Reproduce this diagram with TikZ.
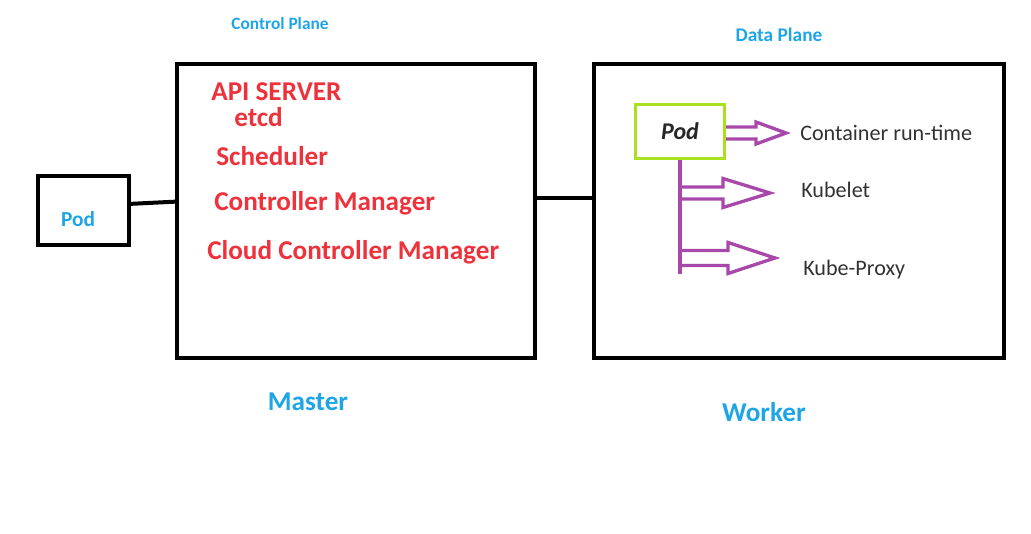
\documentclass[tikz,border=0pt]{standalone}
\usepackage{fontspec}
\setmainfont{Carlito}
\usetikzlibrary{calc}
\definecolor{skyblue}{RGB}{30,165,230}
\definecolor{alertred}{RGB}{238,50,60}
\definecolor{podgreen}{RGB}{170,225,30}
\definecolor{podpurple}{RGB}{168,72,170}
\definecolor{darktext}{RGB}{50,50,50}
\tikzset{
  frame/.style={draw, line width=3pt},
  redlabel/.style={text=alertred, inner sep=0pt, anchor=west,
    font=\bfseries\fontsize{20.4}{24}\selectfont},
  rolelabel/.style={text=skyblue, inner sep=0pt,
    font=\bfseries\fontsize{20.4}{24}\selectfont},
  planelabel/.style={text=skyblue, inner sep=0pt, font=\bfseries\fontsize{#1}{16}\selectfont},
  part/.style={text=darktext, inner sep=0pt, anchor=west,
    font=\fontsize{16.6}{20}\selectfont},
  fat/.style={draw=podpurple, line width=2.5pt, line join=miter},
  link/.style={line width=3pt}
}
% hollow arrow: from, to, head length, half head, half shaft (all in px)
\newcommand{\fatarrow}[5]{%
  \draw[fat] let \p1=(#1), \p2=(#2) in
    (\x1,\y2+#5*0.75pt) -- (\x2-#3*0.75pt,\y2+#5*0.75pt)
    -- (\x2-#3*0.75pt,\y2+#4*0.75pt) -- (\x2,\y2)
    -- (\x2-#3*0.75pt,\y2-#4*0.75pt) -- (\x2-#3*0.75pt,\y2-#5*0.75pt)
    -- (\x1,\y2-#5*0.75pt);}

\begin{document}
\begin{tikzpicture}[x=0.75pt,y=-0.75pt]
    \useasboundingbox (0,0) rectangle (1031,533);
    % boxes
    \node[frame, minimum width=358*0.75pt, minimum height=294*0.75pt] (master) at (356,211) {};
    \node[frame, minimum width=410*0.75pt, minimum height=294*0.75pt] (worker) at (799,211) {};
    \node[frame, minimum width=91*0.75pt, minimum height=69*0.75pt] (lpod) at (83.5,210.5) {};
    \node[text=skyblue, inner sep=0pt, font=\bfseries\fontsize{16}{18}\selectfont] (lpodname) at (78,219) {Pod};
    \node[draw=podgreen, line width=2.5pt, minimum width=89*0.75pt, minimum height=54*0.75pt,
      font=\bfseries\itshape\fontsize{18}{20}\selectfont, text=black!85] (gpod) at (680,131.5) {Pod};
    \draw[link] ([yshift=5pt]lpod.east) -- ([yshift=7pt]master.west);
    \draw[link] ([yshift=10pt]master.east) -- ([yshift=10pt]worker.west);
    % titles
    \node[planelabel=13] (ctrlname) at (280,23) {Control Plane};
    \node[planelabel=14.5] (dataname) at (779,35) {Data Plane};
    \node[rolelabel] (mastername) at (308,402) {Master};
    \node[rolelabel] (workername) at (764,412) {Worker};
    % control plane parts
    \node[redlabel] (api) at (211,92) {API SERVER};
    \node[redlabel] (etcd) at (234,117) {etcd};
    \node[redlabel] (sched) at (216,156) {Scheduler};
    \node[redlabel] (cm) at (214,203) {Controller Manager};
    \node[redlabel] (ccm) at (207,252) {Cloud Controller Manager};
    % worker parts
    \node[part] (crtname) at (800,133) {Container run-time};
    \node[part] (kubname) at (801,190) {Kubelet};
    \node[part] (prxname) at (803,270) {Kube-Proxy};
    \coordinate (crt) at (786,133);
    \coordinate (kub) at (770,193);
    \coordinate (prx) at (775,258);
    \coordinate (trunk) at (680,274);
    \draw[fat, line width=3pt] (gpod.south) -- (trunk);
    \fatarrow{gpod.east}{crt}{30}{11}{6}
    \fatarrow{trunk}{kub}{47}{14.5}{6}
    \fatarrow{trunk}{prx}{47}{15.5}{7.5}
\end{tikzpicture}
\end{document}
